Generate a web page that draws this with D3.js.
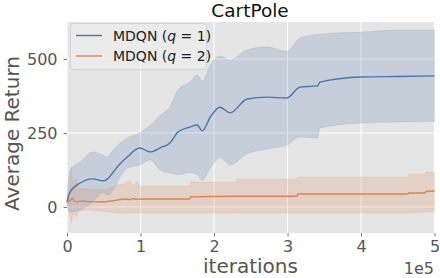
<!DOCTYPE html>
<html>
<head>
<meta charset="utf-8">
<script src="https://cdn.jsdelivr.net/npm/d3@7"></script>
<style>
  body { margin: 0; background: #fff; }
  svg { display: block; font-family: "DejaVu Sans", sans-serif; }
</style>
</head>
<body>
<svg width="440" height="278"></svg>
<script>
// values, iterations in units of 1e5
const blueIter = [0, 0.04, 0.18, 0.35, 0.49, 0.55, 0.63, 0.70, 0.82, 0.99, 1.13, 1.27, 1.40, 1.51, 1.67, 1.77, 1.84, 1.95, 2.08, 2.22, 2.45, 2.72, 2.99, 3.17, 3.41, 3.44, 4.01, 4.5, 5.0];
const blueMean = [17, 50, 81, 95, 88, 95, 118, 140, 169, 199, 186, 200, 216, 253, 270, 277, 257, 304, 337, 318, 365, 371, 368, 405, 409, 422, 439, 441, 443];
const blueHigh = [22, 125, 152, 186, 175, 169, 193, 210, 233, 250, 275, 310, 338, 395, 422, 445, 425, 480, 510, 497, 530, 541, 526, 571, 583, 584, 591, 598, 598];
const blueLow = [10, -17, -10, 17, 48, 40, 57, 91, 132, 142, 159, 125, 115, 110, 116, 110, 91, 132, 166, 142, 180, 196, 209, 236, 233, 267, 284, 287, 290];

const orangeIter = [0, 0.03, 0.06, 0.075, 0.09, 0.12, 0.16, 0.2, 0.3, 0.45, 0.6, 0.7, 0.8, 0.85, 0.9, 0.95, 1.0, 1.67, 1.68, 2.31, 2.32, 3.13, 3.14, 4.64, 4.65, 4.87, 4.88, 5.0];
const orangeMean = [15, 20, 26, 30, 22, 17, 19, 20, 18, 17, 20, 24, 27, 25, 28, 26, 27, 27, 34, 36, 36, 36, 44, 44, 47, 47, 52, 54];
const orangeHigh = [20, 50, 135, 90, 70, 95, 60, 62, 60, 58, 65, 75, 80, 88, 72, 85, 71, 71, 84, 84, 94, 94, 101, 101, 111, 111, 118, 118];
const orangeLow = [10, -15, -54, -30, -20, -35, -15, -12, -10, -14, -18, -20, -20, -20, -20, -20, -20, -20, -20, -20, -20, -20, -20, -20, -20, -17, -17, -17];

const seriesNames = ['MDQN (q = 1)', 'MDQN (q = 2)'];
const xTicks = [0, 1, 2, 3, 4, 5];
const yTicks = [0, 250, 500];

const svg = d3.select('svg');
const plotLeft = 67, plotRight = 434.5, plotTop = 22, plotBottom = 233;

const x = d3.scaleLinear().domain([0, 5]).range([plotLeft, plotRight]);
const y = d3.scaleLinear().domain([-88, 625]).range([plotBottom, plotTop]);

svg.append('rect')
    .attr('x', plotLeft).attr('y', plotTop)
    .attr('width', plotRight - plotLeft).attr('height', plotBottom - plotTop)
    .attr('fill', '#e5e5e5');

// grid
svg.append('g').selectAll('line').data(xTicks).enter().append('line')
    .attr('x1', d => x(d)).attr('x2', d => x(d))
    .attr('y1', plotTop).attr('y2', plotBottom)
    .attr('stroke', '#fff').attr('stroke-width', 1);
svg.append('g').selectAll('line').data(yTicks).enter().append('line')
    .attr('x1', plotLeft).attr('x2', plotRight)
    .attr('y1', d => y(d)).attr('y2', d => y(d))
    .attr('stroke', '#fff').attr('stroke-width', 1);

const series = [
    {it: blueIter, mean: blueMean, hi: blueHigh, lo: blueLow, color: '#4c72b0'},
    {it: orangeIter, mean: orangeMean, hi: orangeHigh, lo: orangeLow, color: '#dd8452'}
];

const area = d3.area()
    .curve(d3.curveMonotoneX)
    .x(d => x(d.it)).y0(d => y(d.lo)).y1(d => y(d.hi));
const line = d3.line()
    .curve(d3.curveMonotoneX)
    .x(d => x(d.it)).y(d => y(d.mean));

series.forEach(s => {
    const pts = s.it.map((v, i) => ({it: v, mean: s.mean[i], hi: s.hi[i], lo: s.lo[i]}));
    s.pts = pts;
    svg.append('path')
        .datum(pts)
        .attr('d', area)
        .attr('fill', s.color)
        .attr('fill-opacity', 0.2)
        .attr('stroke', s.color)
        .attr('stroke-opacity', 0.15)
        .attr('stroke-width', 1);
});
series.forEach(s => {
    svg.append('path')
        .datum(s.pts)
        .attr('d', line)
        .attr('fill', 'none')
        .attr('stroke', s.color)
        .attr('stroke-width', 1.4);
});

// axes
const xAxis = svg.append('g')
    .attr('transform', `translate(0,${plotBottom})`)
    .call(d3.axisBottom(x).tickValues(xTicks).tickFormat(d3.format('d')).tickSize(3.5).tickPadding(4));
const yAxis = svg.append('g')
    .attr('transform', `translate(${plotLeft},0)`)
    .call(d3.axisLeft(y).tickValues(yTicks).tickSize(3.5).tickPadding(6));
[xAxis, yAxis].forEach(a => {
    a.select('.domain').remove();
    a.selectAll('line').attr('stroke', '#555').attr('stroke-width', 0.8);
    a.selectAll('text')
        .attr('fill', '#555')
        .style('font-size', '16px')
        .style('font-family', '"DejaVu Sans", sans-serif');
});

svg.append('text')
    .attr('x', 250.5).attr('y', 273)
    .attr('text-anchor', 'middle')
    .attr('fill', '#555')
    .style('font-size', '20px')
    .text('iterations');

svg.append('text')
    .attr('x', 434).attr('y', 274)
    .attr('text-anchor', 'end')
    .attr('fill', '#555')
    .style('font-size', '16px')
    .text('1e5');

svg.append('text')
    .attr('transform', 'translate(19,133.5) rotate(-90)')
    .attr('text-anchor', 'middle')
    .attr('fill', '#555')
    .style('font-size', '20px')
    .text('Average Return');

svg.append('text')
    .attr('x', 250).attr('y', 17.3)
    .attr('text-anchor', 'middle')
    .attr('fill', '#111')
    .style('font-size', '18.5px')
    .text('CartPole');

// legend
const legend = svg.append('g');
legend.append('rect')
    .attr('x', 70.5).attr('y', 23.5)
    .attr('width', 136).attr('height', 46)
    .attr('rx', 3)
    .attr('fill', '#ececec')
    .attr('fill-opacity', 0.85)
    .attr('stroke', '#d2d2d2');
series.forEach((s, i) => {
    const ly = 35.5 + i * 20.5;
    legend.append('line')
        .attr('x1', 76).attr('x2', 102)
        .attr('y1', ly).attr('y2', ly)
        .attr('stroke', s.color).attr('stroke-width', 1.4);
    const parts = seriesNames[i].split('q');
    const t = legend.append('text')
        .attr('x', 113).attr('y', ly + 5)
        .attr('fill', '#222')
        .style('font-size', '14px');
    t.append('tspan').text(parts[0]);
    t.append('tspan').style('font-style', 'italic').text('q');
    t.append('tspan').text(parts[1]);
});
</script>
</body>
</html>
